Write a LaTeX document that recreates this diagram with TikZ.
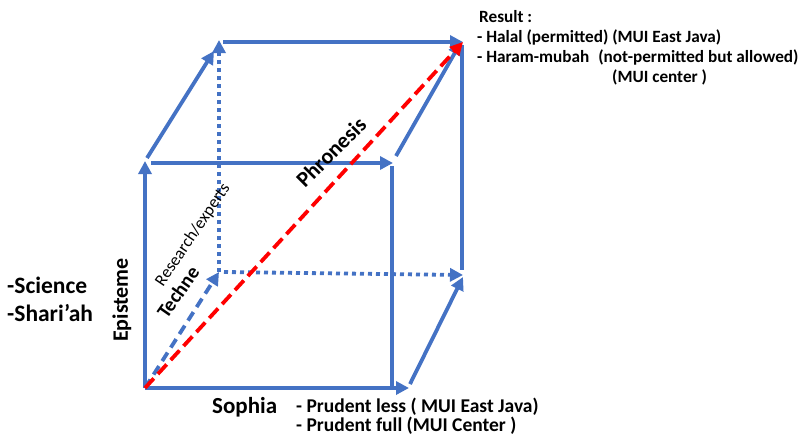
\documentclass[tikz,border=0pt]{standalone}
\usepackage{fontspec}
\setmainfont{Carlito}
\usetikzlibrary{arrows.meta}
\definecolor{cubeblue}{HTML}{4472C4}
\definecolor{phred}{HTML}{FF0000}
\tikzset{
  edge/.style={draw=cubeblue, line width=3.8pt},
  arr/.style={edge, -{Triangle[length=13pt,width=13pt]}},
  dotline/.style={arr, line cap=butt, dash pattern=on 4pt off 4pt},
  techline/.style={arr, dash pattern=on 10pt off 6pt},
  redline/.style={draw=phred, line width=3.8pt, dash pattern=on 13pt off 6pt, -{Triangle[length=13pt,width=13pt]}},
  lbl/.style={inner sep=0pt, font=\bfseries},
  toptext/.style={lbl, anchor=west, font=\bfseries\fontsize{17.2}{20}\selectfont},
  bottext/.style={lbl, anchor=west, font=\bfseries\fontsize{19.5}{23}\selectfont},
}
\begin{document}
\begin{tikzpicture}[x=1pt,y=-1pt]
\useasboundingbox (0,0) rectangle (802,445);
% corners
\coordinate (FBL) at (145,388);
\coordinate (FBR) at (392,388);
\coordinate (FBRx) at (409,388);
\coordinate (FTL) at (145,161);
\coordinate (FTLa) at (151,163);
\coordinate (FTR) at (393,163);
\coordinate (FTRb) at (392,166);
\coordinate (FTLd) at (147,158);
\coordinate (BTLd) at (214,51);
\coordinate (FTRd) at (396,156);
\coordinate (BTRd) at (461,42);
\coordinate (FBRd) at (410,384);
\coordinate (BBRd) at (463,277);
\coordinate (BBL) at (219,272);
\coordinate (BBLh) at (224,272);
\coordinate (BBR) at (463,275);
\coordinate (BTL) at (219,40);
\coordinate (BTLh) at (223,42);
\coordinate (BTR) at (463,42);
\coordinate (BTRv) at (462,45);
\coordinate (BBRv) at (462,270);
% edges
\draw[arr] (FBL) -- (FTL);
\draw[arr] (FBL) -- (FBRx);
\draw[edge] (FBR) -- (FTRb);
\draw[arr] (FTLa) -- (FTR);
\draw[arr] (FTLd) -- (BTLd);
\draw[arr] (FTRd) -- (BTRd);
\draw[arr] (FBRd) -- (BBRd);
\draw[arr] (BTLh) -- (BTR);
\draw[edge] (BTRv) -- (BBRv);
\draw[dotline] (BBL) -- (BTL);
\draw[dotline] (BBLh) -- (BBR);
\draw[techline] (FBL) -- (BBL);
\draw[redline] (FBL) -- (BTR);
% labels
\node[toptext] (res) at (479,17) {Result :};
\node[toptext] (r1) at (477,37) {- Halal (permitted) (MUI East Java)};
\node[toptext] (r2) at (477,57) {- Haram-mubah\hspace{9pt}(not-permitted but allowed)};
\node[toptext] (r3) at (612,77) {(MUI center )};
\node[lbl, rotate=45, font=\bfseries\fontsize{22}{26}\selectfont] (phr) at (331,152) {Phronesis};
\node[lbl, rotate=56, font=\fontsize{17}{20}\selectfont] (rex) at (193,235) {Research/experts};
\node[lbl, rotate=55, font=\bfseries\fontsize{20}{24}\selectfont] (tec) at (178,292) {Techne};
\node[lbl, rotate=90, font=\bfseries\fontsize{22}{26}\selectfont] (epi) at (122,300) {Episteme};
\node[lbl, anchor=west, font=\bfseries\fontsize{23.5}{28}\selectfont] (sci) at (7,285) {-Science};
\node[lbl, anchor=west, font=\bfseries\fontsize{23.5}{28}\selectfont] (sha) at (7,313) {-Shari’ah};
\node[lbl, anchor=west, font=\bfseries\fontsize{23}{27}\selectfont] (sop) at (212,407) {Sophia};
\node[bottext] (p1) at (296,407) {- Prudent less ( MUI East Java)};
\node[bottext] (p2) at (296,426) {- Prudent full (MUI Center )};
\end{tikzpicture}
\end{document}
